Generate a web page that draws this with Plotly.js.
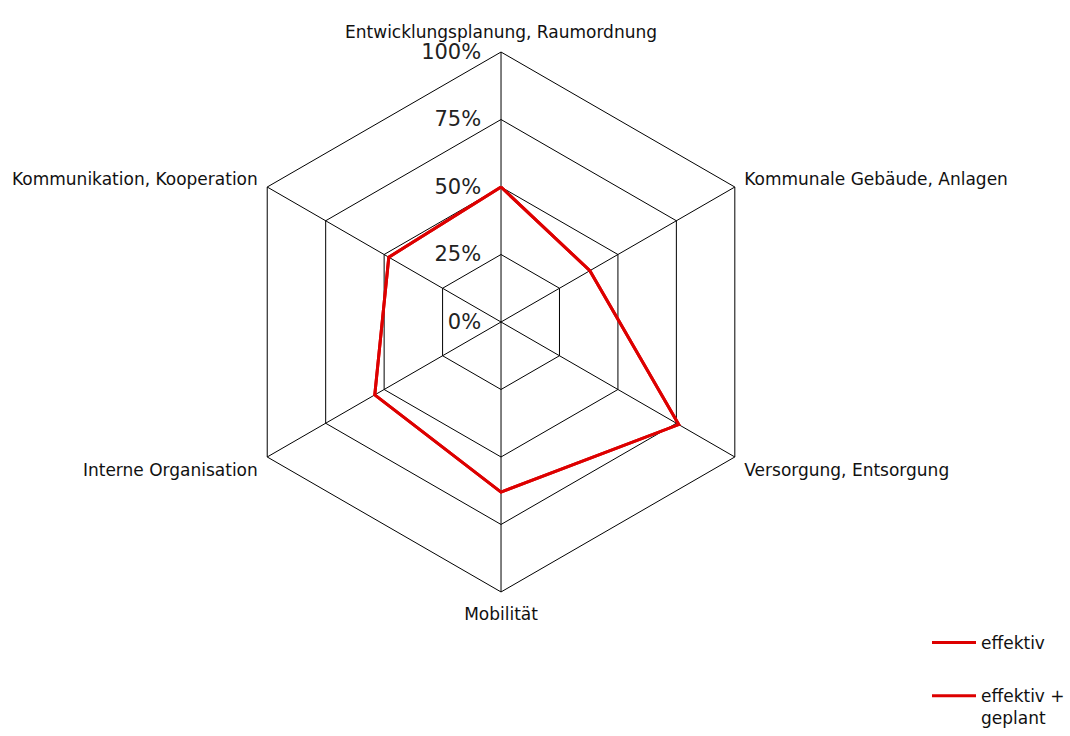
<!DOCTYPE html>
<html>
<head>
<meta charset="utf-8">
<script src="https://cdn.plot.ly/plotly-3.0.1.min.js"></script>
<style>html,body{margin:0;padding:0;background:#fff;}#chart{width:1070px;height:736px;}</style>
</head>
<body>
<div id="chart"></div>
<script>
var categories = ["Entwicklungsplanung, Raumordnung", "Kommunale Gebäude, Anlagen", "Versorgung, Entsorgung", "Mobilität", "Interne Organisation", "Kommunikation, Kooperation"];
var effektiv = [50, 38, 76, 63, 54, 48];
var effektivGeplant = [50, 38, 76, 63, 54, 48];
var seriesNames = ["effektiv", "effektiv +<br>geplant"];
var radialTicks = [0, 25, 50, 75, 100];
var radialTickText = ["0%", "25%", "50%", "75%", "100%"];

function closed(arr) { return arr.concat([arr[0]]); }

var traces = [
  {type: "scatterpolar", mode: "lines", r: closed(effektiv), theta: closed(categories), name: seriesNames[0],
   legendgroup: "a", line: {color: "#dd0000", width: 3}, hoverinfo: "skip"},
  {type: "scatterpolar", mode: "lines", r: closed(effektivGeplant), theta: closed(categories), name: seriesNames[1],
   legendgroup: "b", line: {color: "#dd0000", width: 3}, hoverinfo: "skip"}
];

var layout = {
  width: 1070, height: 736,
  margin: {l: 0, r: 0, t: 0, b: 0},
  paper_bgcolor: "#fff",
  font: {family: "DejaVu Sans, sans-serif", color: "#111", size: 17},
  showlegend: true,
  legend: {x: 1, y: 0, xanchor: "right", yanchor: "bottom", traceorder: "grouped", tracegroupgap: 28,
           valign: "top", itemwidth: 44,
           font: {size: 17, color: "#111"}, bgcolor: "rgba(0,0,0,0)"},
  polar: {
    domain: {x: [0.2159, 0.7206], y: [0.1957, 0.9293]},
    gridshape: "linear",
    bgcolor: "#fff",
    angularaxis: {rotation: 90, direction: "clockwise", showline: true, linecolor: "#000", linewidth: 1,
                  showgrid: true, gridcolor: "#000", gridwidth: 1,
                  ticks: "outside", ticklen: 7, tickcolor: "rgba(0,0,0,0)",
                  tickfont: {size: 17, color: "#111"}},
    radialaxis: {range: [0, 100], tickvals: radialTicks, ticktext: radialTickText, tickangle: 90, angle: 90,
                 side: "counterclockwise",
                 showline: false, ticks: "outside", ticklen: 12, tickcolor: "rgba(0,0,0,0)",
                 showgrid: true, gridcolor: "#000", gridwidth: 1,
                 tickfont: {size: 21, color: "#222"}}
  }
};

Plotly.newPlot("chart", traces, layout, {staticPlot: true});
</script>
</body>
</html>
